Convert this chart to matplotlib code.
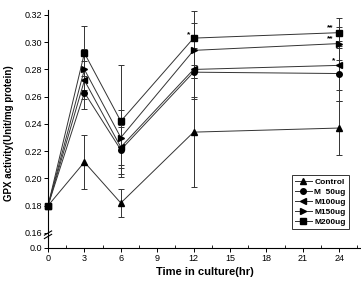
import numpy as np
import matplotlib.pyplot as plt
from matplotlib.ticker import MultipleLocator

plt.rcParams['font.family'] = ['Liberation Sans', 'DejaVu Sans']

time = [0, 3, 6, 12, 24]
control = [0.180, 0.212, 0.182, 0.234, 0.237]
m50 = [0.180, 0.263, 0.221, 0.278, 0.277]
m100 = [0.180, 0.272, 0.223, 0.280, 0.283]
m150 = [0.180, 0.280, 0.230, 0.294, 0.299]
m200 = [0.180, 0.292, 0.242, 0.303, 0.307]

control_err = [0.0, 0.020, 0.010, 0.040, 0.020]
m50_err = [0.0, 0.012, 0.018, 0.018, 0.020]
m100_err = [0.0, 0.014, 0.015, 0.022, 0.018]
m150_err = [0.0, 0.015, 0.020, 0.020, 0.012]
m200_err = [0.0, 0.020, 0.041, 0.020, 0.011]

labels = ['Control', 'M  50ug', 'M100ug', 'M150ug', 'M200ug']
markers = ['^', 'o', '<', '>', 's']

# significance marks: (x, y, text)
stars = [(11.6, 0.303, '*'), (23.3, 0.308, '**'), (23.3, 0.300, '**'), (23.5, 0.284, '*')]

fig = plt.figure(figsize=(3.61, 2.83), dpi=100)
ax = fig.add_axes([0.133, 0.159, 0.867, 0.806])
ax_lo = fig.add_axes([0.133, 0.124, 0.867, 0.035])

series = [control, m50, m100, m150, m200]
errs = [control_err, m50_err, m100_err, m150_err, m200_err]
handles = []
for y, e, lab, mk in zip(series, errs, labels, markers):
    eb = ax.errorbar(time, y, yerr=e, color='#333333', lw=0.7, marker=mk, ms=4,
                     mfc='black', mec='black', ecolor='#333333', elinewidth=0.7,
                     capsize=2, capthick=0.7, clip_on=False)
    handles.append(eb[0])

for x, y, s in stars:
    ax.text(x, y, s, fontsize=6, fontweight='bold', ha='center', va='bottom')

ax.set_xlim(0, 25.8)
ax.set_ylim(0.1563, 0.3237)
ax.yaxis.set_major_locator(MultipleLocator(0.02))
ax.yaxis.set_major_formatter(plt.FormatStrFormatter('%.2f'))
ax.set_xticks([])
for side in ['top', 'right', 'bottom']:
    ax.spines[side].set_visible(False)
ax.tick_params(axis='y', labelsize=6.5, length=3, width=0.7, pad=1.5)
ax.spines['left'].set_linewidth(0.8)

ax_lo.set_xlim(0, 25.8)
ax_lo.set_ylim(0, 0.02)
ax_lo.set_yticks([0.0])
ax_lo.yaxis.set_major_formatter(plt.FormatStrFormatter('%.1f'))
ax_lo.xaxis.set_major_locator(MultipleLocator(3))
ax_lo.xaxis.set_minor_locator(MultipleLocator(1.5))
for side in ['top', 'right']:
    ax_lo.spines[side].set_visible(False)
ax_lo.spines['left'].set_linewidth(0.8)
ax_lo.spines['bottom'].set_linewidth(0.8)
ax_lo.tick_params(axis='y', labelsize=6.5, length=3, width=0.7, pad=1.5)
ax_lo.tick_params(axis='x', which='major', labelsize=6.5, length=3, width=0.7, pad=1.5)
ax_lo.tick_params(axis='x', which='minor', direction='in', length=2, width=0.6)
ax_lo.patch.set_alpha(0)

# break marks on y axis
for dy in (0.0, 0.012):
    fig.add_artist(plt.Line2D([0.123, 0.143], [0.157 + dy, 0.172 + dy],
                              color='black', lw=0.8))

ax_lo.set_xlabel('Time in culture(hr)', fontsize=8, fontweight='bold', labelpad=3)
fig.text(0.025, 0.53, 'GPX activity(Unit/mg protein)', rotation=90, fontsize=7,
         fontweight='bold', ha='center', va='center')

leg = ax.legend(handles, labels, loc='lower right', bbox_to_anchor=(0.975, 0.02),
                prop={'weight': 'bold', 'size': 6}, frameon=True, fancybox=False,
                edgecolor='black', handlelength=2, handletextpad=0.3,
                borderpad=0.4, labelspacing=0.25)
leg.get_frame().set_linewidth(0.7)

fig.savefig('out.png', dpi=100)
